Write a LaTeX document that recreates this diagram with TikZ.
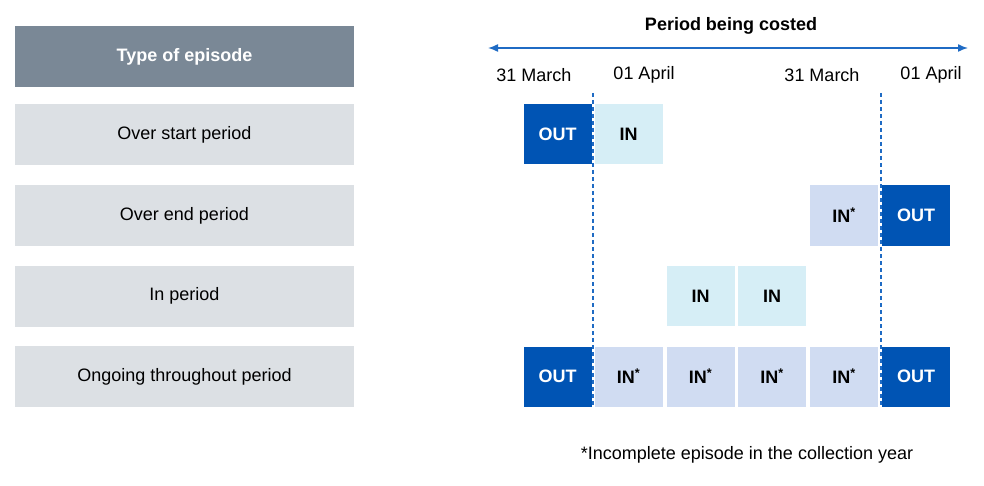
\documentclass[tikz,border=0pt]{standalone}
\usepackage{fontspec}
\setmainfont{Liberation Sans}
\usetikzlibrary{arrows.meta}
\definecolor{dblue}{RGB}{0,84,180}
\definecolor{lcyan}{RGB}{214,238,246}
\definecolor{lav}{RGB}{208,220,242}
\definecolor{hgray}{RGB}{122,136,150}
\definecolor{lgray}{RGB}{220,224,228}
\definecolor{ablue}{RGB}{31,107,196}
\begin{document}
\begin{tikzpicture}[x=1pt,y=-1pt,
 txt/.style={font=\fontsize{18}{20}\selectfont},
 cell/.style={minimum width=68pt,minimum height=60pt,inner sep=0pt,font=\fontsize{18}{20}\selectfont\bfseries},
 outc/.style={cell,fill=dblue,text=white},
 inc/.style={cell,fill=lcyan},
 ins/.style={cell,fill=lav},
 lbox/.style={minimum width=339pt,minimum height=61pt,inner sep=0pt,fill=lgray,font=\fontsize{18}{20}\selectfont}]
\useasboundingbox (0,0) rectangle (984,486);
\node[lbox,fill=hgray,text=white,font=\fontsize{18}{20}\selectfont\bfseries] (h) at (184.5,56.5) {Type of episode};
\node[lbox] (r1) at (184.5,134.5) {Over start period};
\node[lbox] (r2) at (184.5,215.5) {Over end period};
\node[lbox] (r3) at (184.5,296) {In period};
\node[lbox] (r4) at (184.5,376.5) {Ongoing throughout period};
\node[txt,font=\fontsize{18}{20}\selectfont\bfseries] (t) at (731,26) {Period being costed};
\coordinate (al) at (488,48); \coordinate (ar) at (968,48);
\draw[ablue,line width=1.5pt,{Latex[length=10pt,width=8pt]}-{Latex[length=10pt,width=8pt]}] (al) -- (ar);
\node[txt] (d1) at (534,75) {31 March};
\node[txt] (d2) at (644,75) {01 April};
\node[txt] (d3) at (822,75) {31 March};
\node[txt] (d4) at (931,75) {01 April};
\node[outc] (a1) at (557.5,134.5) {OUT};
\node[inc] (a2) at (628.5,134.5) {IN};
\node[ins] (b5) at (844,215.5) {IN\textsuperscript{*}};
\node[outc] (b6) at (916,215.5) {OUT};
\node[inc] (c3) at (700.5,296) {IN};
\node[inc] (c4) at (772,296) {IN};
\node[outc] (e1) at (557.5,376.5) {OUT};
\node[ins] (e2) at (628.5,376.5) {IN\textsuperscript{*}};
\node[ins] (e3) at (700.5,376.5) {IN\textsuperscript{*}};
\node[ins] (e4) at (772,376.5) {IN\textsuperscript{*}};
\node[ins] (e5) at (844,376.5) {IN\textsuperscript{*}};
\node[outc] (e6) at (916,376.5) {OUT};
\coordinate (v1t) at (593,93); \coordinate (v1b) at (593,406);
\coordinate (v2t) at (881,93); \coordinate (v2b) at (881,406);
\draw[ablue,line width=1.2pt,dash pattern=on 4pt off 3pt] (v1t) -- (v1b);
\draw[ablue,line width=1.2pt,dash pattern=on 4pt off 3pt] (v2t) -- (v2b);
\node[txt] (note) at (747,455) {*Incomplete episode in the collection year};
\end{tikzpicture}
\end{document}
